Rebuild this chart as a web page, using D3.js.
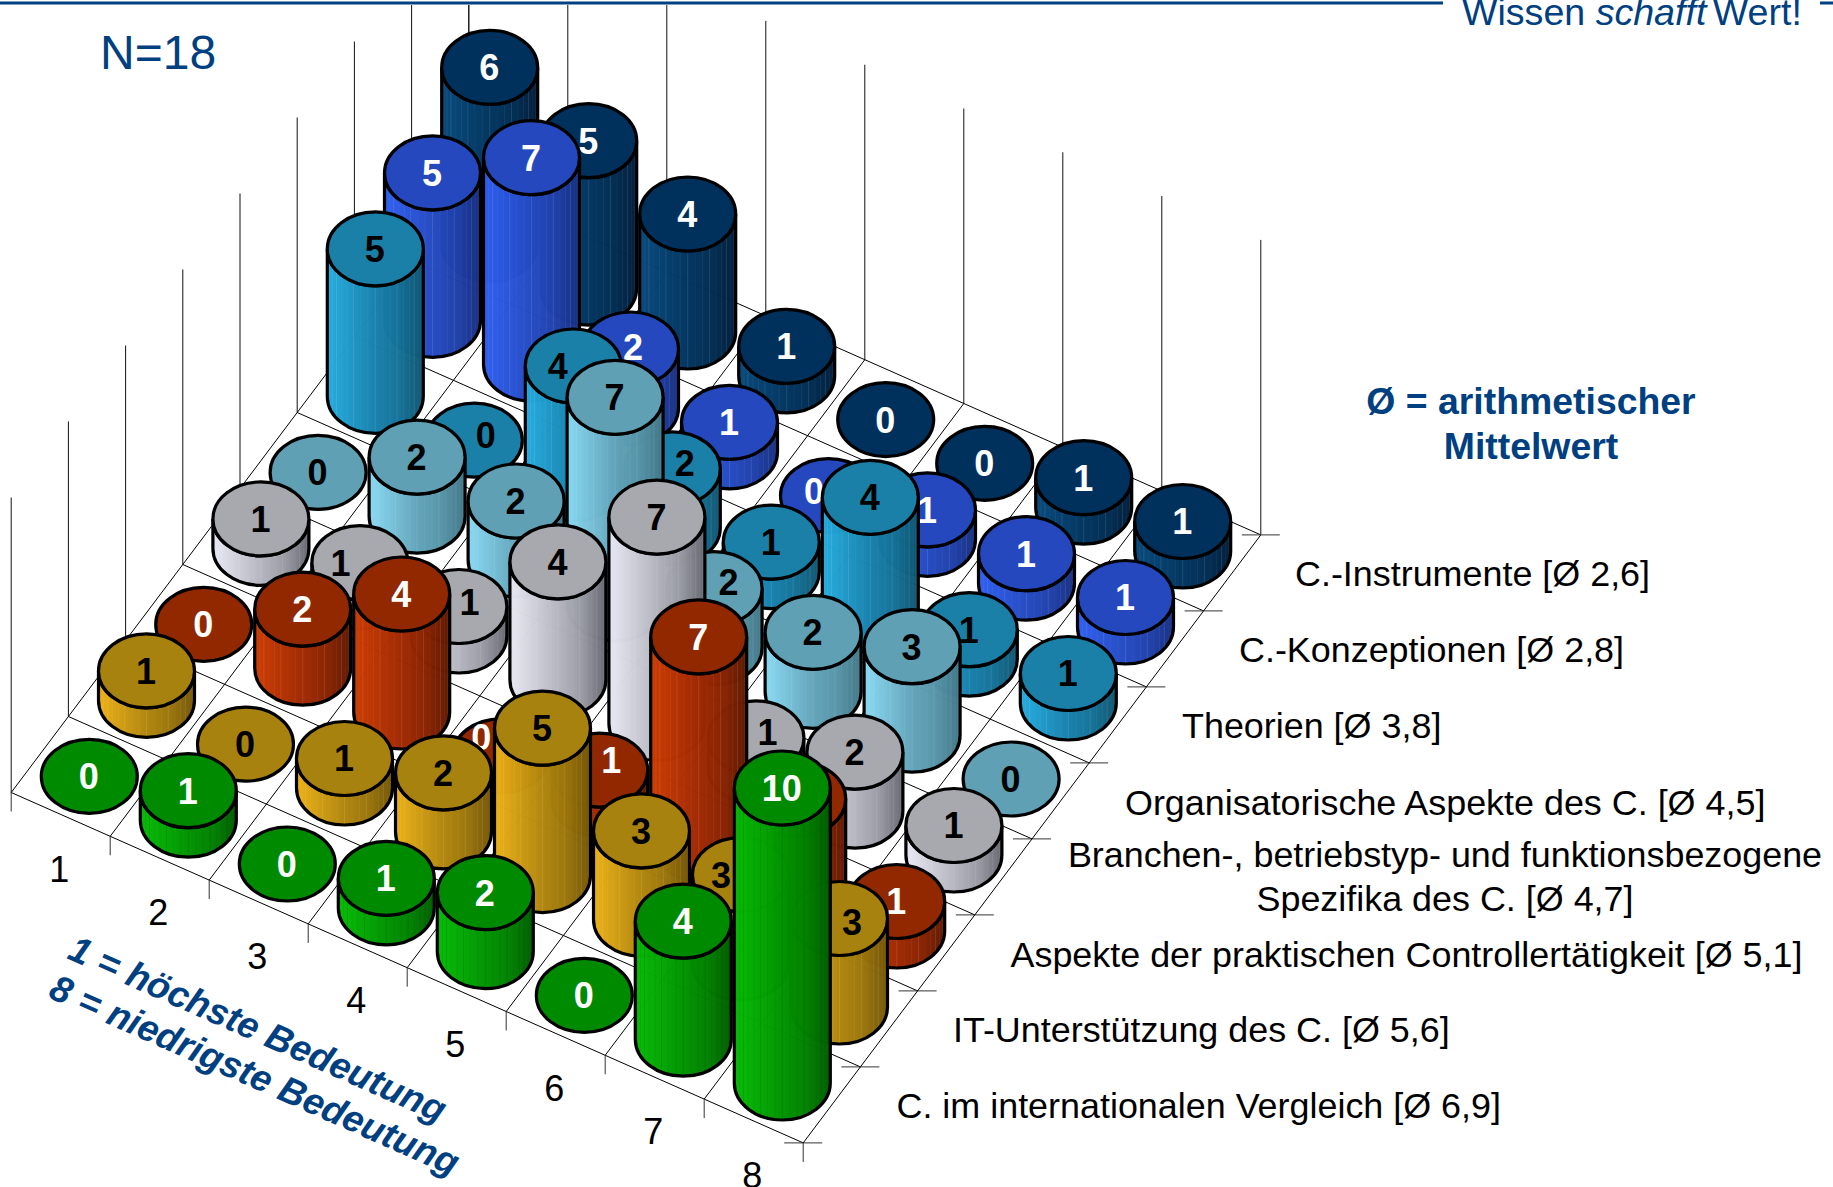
<!DOCTYPE html>
<html><head><meta charset="utf-8">
<script src="https://cdn.jsdelivr.net/npm/d3@7"></script>
<style>html,body{margin:0;padding:0;background:#fff;overflow:hidden}svg{display:block}text{font-family:"Liberation Sans",Arial,sans-serif}</style>
</head><body>
<script>
// Data
const ranks = [1,2,3,4,5,6,7,8];
// rows listed from the front edge of the floor to the back edge
const rowNames = ["C. im internationalen Vergleich","IT-Unterstützung des C.","Aspekte der praktischen Controllertätigkeit","Branchen-, betriebstyp- und funktionsbezogene Spezifika des C.","Organisatorische Aspekte des C.","Theorien","C.-Konzeptionen","C.-Instrumente"];
const rowMeans = ["6,9","5,6","5,1","4,7","4,5","3,8","2,8","2,6"];
const vergleich     = [0,1,0,1,2,0,4,10];
const itUnterst     = [1,0,1,2,5,3,3,3];
const praxis        = [0,2,4,0,1,7,3,1];
const branchen      = [1,1,1,4,7,1,2,1];
const organisation  = [0,2,2,7,2,2,3,0];
const theorien      = [5,0,4,2,1,4,1,1];
const konzeptionen  = [5,7,2,1,0,1,1,1];
const instrumente   = [6,5,4,1,0,0,1,1];
const seriesValues = [vergleich,itUnterst,praxis,branchen,organisation,theorien,konzeptionen,instrumente];

// Styles: [top, body left, body mid, body right, label]
const palette = [
 ["#008a00","#04b804","#009400","#005e00","#fff"],
 ["#a8820e","#e6ac14","#b0850c","#725506","#000"],
 ["#922800","#c83800","#a02800","#5e1800","#fff"],
 ["#a8a9ae","#e4e4f0","#b4b5be","#666770","#000"],
 ["#60a0b4","#84d4ee","#62a4ba","#407686","#000"],
 ["#1a80a8","#22a8da","#1680ac","#0e5470","#000"],
 ["#2548bf","#2c5cec","#244ac2","#162e80","#fff"],
 ["#00305c","#044678","#00345f","#001c3a","#fff"]
];
// hand-placed label shifts seen in the reference: "row,col" -> [dx,dy]
const labelNudge = {"2,3":[-19,-19],"2,4":[12,-10],"3,1":[-19,0],"3,2":[11,-4],"3,5":[12,-6],"4,4":[15,-7],
 "5,1":[12,-5],"5,2":[-15,0],"5,3":[13,-6],"6,4":[-14,-5],"6,2":[3,-2],"1,6":[-19,0],"1,7":[13,4]};

const W=1833,H=1187;
const navyText="#004080";
const svg=d3.select("body").append("svg").attr("width",W).attr("height",H);
const defs=svg.append("defs");

// floor projection
const O=[11.2,792.5], U=[99,43.8], V=[57.2,-76];
const colScale=d3.scaleLinear().domain([0,8]).range([0,8]);
const project=(u,v)=>[O[0]+colScale(u)*U[0]+v*V[0], O[1]+colScale(u)*U[1]+v*V[1]];
const hScale=d3.scaleLinear().domain([0,10]).range([0,295]);
const rx=48, ry=37;

// walls
const g=svg.append("g").attr("stroke","#000").attr("stroke-width",1).attr("fill","none");
const line=(a,b,c)=>g.append("line").attr("x1",a[0]).attr("y1",a[1]).attr("x2",b[0]).attr("y2",b[1]).attr("stroke",c||"#000");
const wallTop=hScale(10);
const clipTop=5;
d3.range(0,9).forEach(i=>{
  let p=project(0,i); line(p,[p[0],Math.max(clipTop,p[1]-wallTop)],"#111");
  p=project(i,8); line(p,[p[0],Math.max(clipTop,p[1]-wallTop)],"#111");
  line(project(i,0),project(i,8));
  line(project(0,i),project(8,i));
  const f=project(i,0); line(f,[f[0],f[1]+19],"#333");
  const r=project(8,i); line([r[0]-19,r[1]],[r[0]+19,r[1]],"#333");
});

// gradients
palette.forEach((p,i)=>{
  const gr=defs.append("linearGradient").attr("id","grad"+i).attr("x1",0).attr("x2",1).attr("y1",0).attr("y2",0);
  [[0,p[1]],[0.05,p[1]],[0.5,p[2]],[0.75,d3.interpolateRgb(p[2],p[3])(0.35)],[1,p[3]]].forEach(s=>gr.append("stop").attr("offset",s[0]).attr("stop-color",s[1]));
});

// cylinders, painter's order (floor y ascending)
const cells=[];
seriesValues.forEach((vals,r)=>vals.forEach((v,c)=>{
  const b=project(c+0.5,r+0.5);
  cells.push({r,c,v,x:b[0],y:b[1]});
}));
cells.sort((a,b)=>a.y-b.y);
const facets=d3.range(9,180,9);
const G=svg.selectAll("g.cyl").data(cells).join("g").attr("class","cyl");
G.each(function(d){
  const s=d3.select(this), h=hScale(d.v), top=d.y-h, p=palette[d.r];
  if(d.v>0){
    const path=`M${d.x-rx},${top}L${d.x-rx},${d.y}A${rx},${ry} 0 0 0 ${d.x+rx},${d.y}L${d.x+rx},${top}A${rx},${ry} 0 0 1 ${d.x-rx},${top}Z`;
    s.append("path").attr("d",path).attr("fill","url(#grad"+d.r+")").attr("fill-opacity",0.985);
    facets.forEach((deg,i)=>{
      const t=deg*Math.PI/180, fx=d.x-rx*Math.cos(t), off=ry*Math.sin(t);
      s.append("line").attr("x1",fx).attr("x2",fx).attr("y1",top+off).attr("y2",d.y+off)
       .attr("stroke",d.r===0?"#000":"#fff").attr("stroke-width",0.8).attr("stroke-opacity",[0.14,0.05,0.08][i%3]);
    });
    s.append("path").attr("d",path).attr("fill","none").attr("stroke","#000").attr("stroke-width",3.2);
  }
  s.append("ellipse").attr("cx",d.x).attr("cy",top).attr("rx",rx).attr("ry",ry).attr("fill",p[0]).attr("stroke","#000").attr("stroke-width",3.2);
  const n=labelNudge[d.r+","+d.c]||[0,0];
  s.append("text").attr("x",d.x-0.5+n[0]).attr("y",top+n[1]).attr("dy","0.36em").attr("text-anchor","middle")
    .attr("font-size",36).attr("font-weight","bold").attr("fill",p[4]).text(d.v);
});

// rank labels
const rankG=svg.append("g");
ranks.forEach((t,i)=>{
  const p=project(i,0);
  rankG.append("text").attr("x",p[0]+48).attr("y",p[1]+89).attr("text-anchor","middle").attr("font-size",36).attr("fill","#000").text(t);
});

// row labels
const rowFont=35.9;
const rowLayout=[[896.5,1117.5],[953,1042],[1010.5,966.5],[1068,815],[1125,815],[1182,738],[1239,662],[1295,586]];
const single=(txt,x,y)=>svg.append("text").attr("x",x).attr("y",y).attr("font-size",rowFont).attr("fill","#000").text(txt);
rowNames.forEach((n,i)=>{
  const lbl=`${n} [Ø ${rowMeans[i]}]`;
  if(i===3){
    const parts=["Branchen-, betriebstyp- und funktionsbezogene",`Spezifika des C. [Ø ${rowMeans[i]}]`];
    svg.append("text").attr("x",1445).attr("y",867).attr("text-anchor","middle").attr("font-size",rowFont).text(parts[0]);
    svg.append("text").attr("x",1445).attr("y",911).attr("text-anchor","middle").attr("font-size",rowFont).text(parts[1]);
  } else {
    const [x,y]=rowLayout[i];
    single(lbl,x,y);
  }
});

// decorations
svg.append("line").attr("x1",0).attr("x2",1443).attr("y1",3).attr("y2",3).attr("stroke",navyText).attr("stroke-width",3);
svg.append("line").attr("x1",1820).attr("x2",1833).attr("y1",3).attr("y2",3).attr("stroke",navyText).attr("stroke-width",3);
const wiss=svg.append("text").attr("x",1462).attr("y",25).attr("font-size",37.6).attr("fill",navyText);
wiss.append("tspan").text("Wissen ");
wiss.append("tspan").attr("font-style","italic").text("schafft");
wiss.append("tspan").attr("dx",-4).text(" Wert!");
svg.append("text").attr("x",100).attr("y",69).attr("font-size",48).attr("fill",navyText).text("N=18");
svg.append("text").attr("x",1531).attr("y",414).attr("text-anchor","middle").attr("font-size",37.4).attr("font-weight","bold").attr("fill",navyText).text("Ø = arithmetischer");
svg.append("text").attr("x",1531).attr("y",459).attr("text-anchor","middle").attr("font-size",37.4).attr("font-weight","bold").attr("fill",navyText).text("Mittelwert");
const ang=Math.atan2(U[1],U[0])*180/Math.PI;
[["1 = höchste Bedeutung",66,958],["8 = niedrigste Bedeutung",47,997]].forEach(a=>{
  svg.append("text").attr("transform",`translate(${a[1]},${a[2]}) rotate(${ang})`).attr("font-size",37).attr("font-weight","bold").attr("font-style","italic").attr("fill",navyText).text(a[0]);
});
</script>
</body></html>
